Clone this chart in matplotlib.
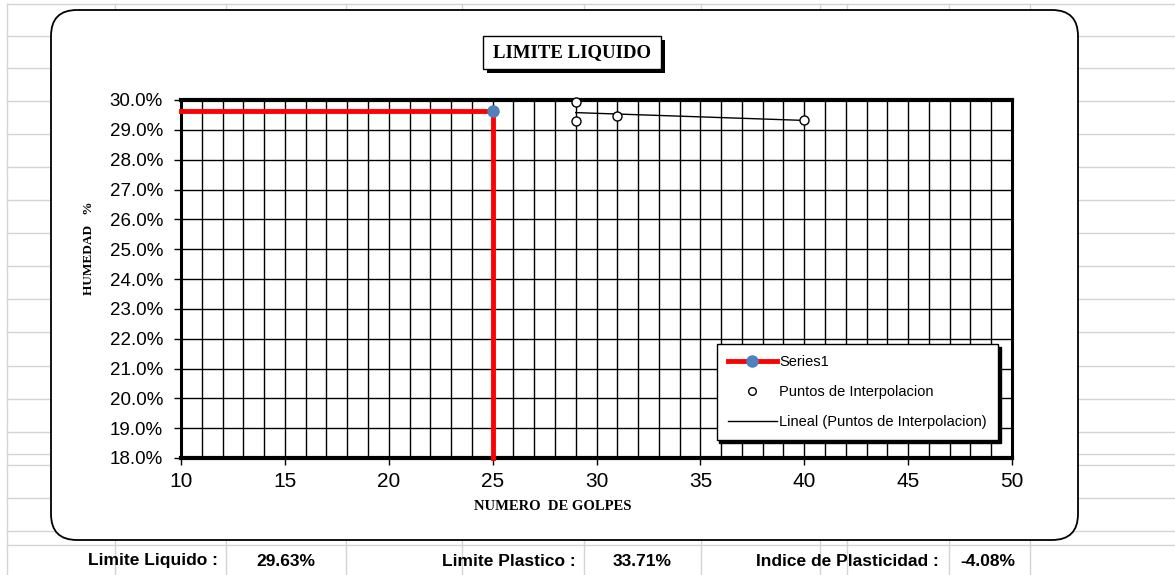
import numpy as np
import matplotlib.pyplot as plt
from matplotlib.patches import FancyBboxPatch, Rectangle
from matplotlib.lines import Line2D
from matplotlib.ticker import MultipleLocator, FuncFormatter

# limite liquido: linea de lectura a 25 golpes
golpes_ll = [10, 25, 25]
humedad_ll = [29.63, 29.63, 18.0]

# puntos de interpolacion (golpes, % humedad)
golpes_pts = [29, 29, 31, 40]
humedad_pts = [29.92, 29.30, 29.45, 29.33]

limite_liquido = 29.63
limite_plastico = 33.71
indice_plasticidad = -4.08

W, H = 1175, 575
fig = plt.figure(figsize=(W / 100, H / 100), dpi=100)

# fondo tipo hoja de calculo, en pixeles
bg = fig.add_axes([0, 0, 1, 1], zorder=0)
bg.set_xlim(0, W)
bg.set_ylim(H, 0)
bg.axis("off")

filas = [4, 36, 68, 101, 134, 167, 200, 233, 266, 299, 332, 366, 399, 432,
         454, 465, 498, 531, 545]
columnas = [7, 115, 226, 346, 462, 584, 701, 820, 847, 949, 1030]
for yy in filas:
    bg.plot([7, W], [yy, yy], color="#d4d4d4", lw=1, zorder=0)
for xx in columnas:
    bg.plot([xx, xx], [4, H], color="#d4d4d4", lw=1, zorder=0)

# marco redondeado del grafico
bg.add_patch(FancyBboxPatch((51, 10), 1027, 530,
                            boxstyle="round,pad=0,rounding_size=26",
                            facecolor="white", edgecolor="black", lw=1.3, zorder=2))

# titulo con sombra
bg.add_patch(Rectangle((487, 40), 178, 33, facecolor="black", edgecolor="none", zorder=3))
bg.add_patch(Rectangle((483, 36), 178, 33, facecolor="white", edgecolor="black", lw=1, zorder=4))
bg.text(572, 53, "LIMITE LIQUIDO", family="Liberation Serif", weight="bold",
        fontsize=13.5, ha="center", va="center", zorder=5)

bg.text(89, 248, "HUMEDAD   %", family="Liberation Serif", weight="bold",
        fontsize=9.5, rotation=90, ha="center", va="center", zorder=5)
bg.text(553, 507, "NUMERO  DE GOLPES", family="Liberation Serif", weight="bold",
        fontsize=10.5, ha="center", va="center", zorder=5)

# fila de resultados
fila_y = 561
narrow = ["Liberation Sans Narrow", "Liberation Sans"]
bg.text(218, fila_y, "Limite Liquido :", family=narrow, weight="bold",
        fontsize=12.5, ha="right", va="center")
bg.text(286, fila_y, f"{limite_liquido:.2f}%", family=narrow, weight="bold",
        fontsize=12.5, ha="center", va="center")
bg.text(576, fila_y, "Limite Plastico :", family=narrow, weight="bold",
        fontsize=12.5, ha="right", va="center")
bg.text(642, fila_y, f"{limite_plastico:.2f}%", family=narrow, weight="bold",
        fontsize=12.5, ha="center", va="center")
bg.text(939, fila_y, "Indice de Plasticidad :", family=narrow, weight="bold",
        fontsize=12.5, ha="right", va="center")
bg.text(988, fila_y, f"{indice_plasticidad:.2f}%", family=narrow, weight="bold",
        fontsize=12.5, ha="center", va="center")

# area de trazado
ax = fig.add_axes([181 / W, 1 - 458 / H, (1012 - 181) / W, (458 - 100) / H], zorder=3)
ax.set_xlim(10, 50)
ax.set_ylim(18, 30)
ax.xaxis.set_major_locator(MultipleLocator(5))
ax.xaxis.set_minor_locator(MultipleLocator(1))
ax.yaxis.set_major_locator(MultipleLocator(1))
ax.yaxis.set_major_formatter(FuncFormatter(lambda v, p: f"{v:.1f}%"))
ax.grid(True, which="both", axis="x", color="black", lw=1.0)
ax.grid(True, which="major", axis="y", color="black", lw=1.0)
ax.tick_params(axis="x", which="minor", length=0)
ax.tick_params(axis="x", which="major", length=5, width=1, direction="out",
               labelsize=15, pad=5)
ax.tick_params(axis="y", length=5, width=1, direction="out", labelsize=13.5, pad=8)
for lab in ax.get_xticklabels() + ax.get_yticklabels():
    lab.set_family("Liberation Sans")
for s in ax.spines.values():
    s.set_linewidth(2.2)
ax.spines["top"].set_linewidth(3)
ax.spines["bottom"].set_linewidth(3)
ax.set_axisbelow(True)

ax.plot(golpes_ll, humedad_ll, color="red", lw=3.5, marker="o", markevery=[1],
        markersize=8, markerfacecolor="#4f81bd", markeredgecolor="#4f81bd",
        clip_on=False, zorder=4)

# tendencia lineal de los puntos
m, b = np.polyfit(golpes_pts, humedad_pts, 1)
xt = np.array([min(golpes_pts), max(golpes_pts)])
ax.plot(xt, m * xt + b, color="black", lw=1, zorder=4)
ax.plot(golpes_pts, humedad_pts, "o", markersize=6.5, markerfacecolor="white",
        markeredgecolor="black", markeredgewidth=1, clip_on=False, zorder=5)

handles = [
    Line2D([], [], color="red", lw=3.5, marker="o", markersize=8,
           markerfacecolor="#4f81bd", markeredgecolor="#4f81bd"),
    Line2D([], [], ls="none", marker="o", markersize=5.5, markerfacecolor="white",
           markeredgecolor="black"),
    Line2D([], [], color="black", lw=1),
]
leg = ax.legend(handles, ["Series1", "Puntos de Interpolacion",
                          "Lineal (Puntos de Interpolacion)"],
                loc="lower right", bbox_to_anchor=(0.983, 0.05),
                prop={"family": "Liberation Sans", "size": 10.5},
                frameon=True, fancybox=False, shadow={"color": "black", "alpha": 1},
                edgecolor="black", framealpha=1, borderpad=0.75, labelspacing=1.1,
                handlelength=3.4, handletextpad=0.15, borderaxespad=0)
leg.get_frame().set_linewidth(1)

fig.savefig("out.png", dpi=100)
